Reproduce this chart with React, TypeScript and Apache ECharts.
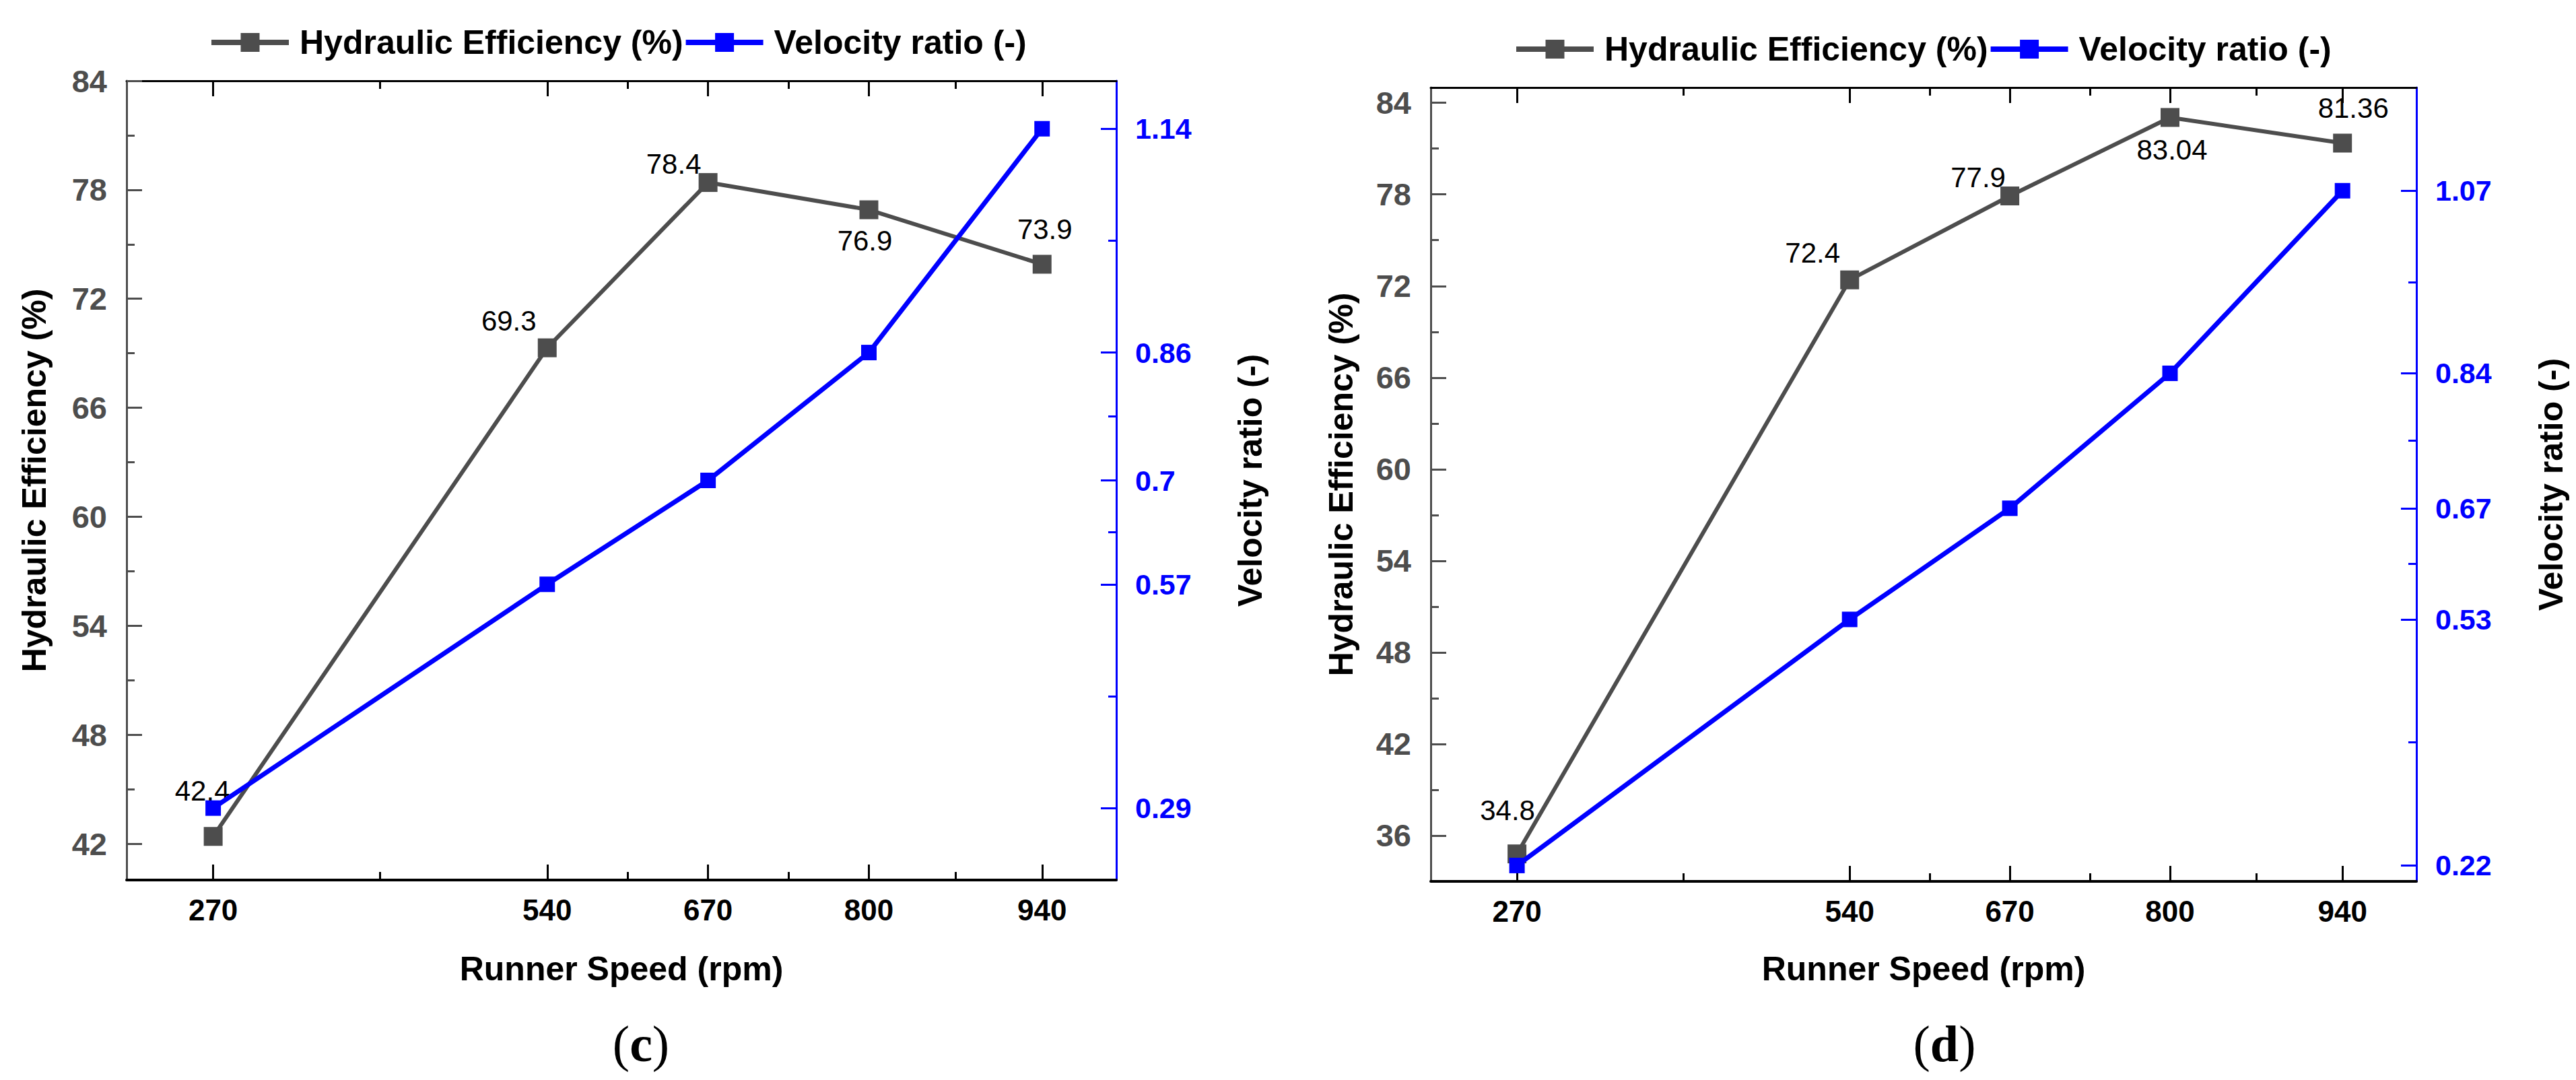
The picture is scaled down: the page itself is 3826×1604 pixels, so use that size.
import React, { useEffect, useRef } from "react";
import * as echarts from "echarts";

const FONT = '"Liberation Sans", Arial, sans-serif';
const SERIF = '"Liberation Serif", "Times New Roman", serif';

// ---- data ----
const runnerSpeed = [270, 540, 670, 800, 940];
const speedMinorTicks = [405, 605, 735, 870];

const efficiencyC = [42.4, 69.3, 78.4, 76.9, 73.9];
const velocityC = [0.29, 0.57, 0.7, 0.86, 1.14];
const effTicksC = [42, 48, 54, 60, 66, 72, 78, 84];
const effMinorC = [45, 51, 57, 63, 69, 75, 81];
const velTicksC = [0.29, 0.57, 0.7, 0.86, 1.14];
const velMinorC = [0.43, 0.635, 0.78, 1.0];

const efficiencyD = [34.8, 72.4, 77.9, 83.04, 81.36];
const velocityD = [0.22, 0.53, 0.67, 0.84, 1.07];
const effTicksD = [36, 42, 48, 54, 60, 66, 72, 78, 84];
const effMinorD = [39, 45, 51, 57, 63, 69, 75, 81];
const velTicksD = [0.22, 0.53, 0.67, 0.84, 1.07];
const velMinorD = [0.375, 0.6, 0.755, 0.955];

const xName = "Runner Speed (rpm)";
const effName = "Hydraulic Efficiency (%)";
const velName = "Velocity ratio (-)";

// label placement (pixel offsets from marker centre)
const labelOffsetC = [[-16, -68], [-57, -40], [-51, -28], [-6, 46], [4, -52]];
const labelOffsetD = [[-14, -65], [-55, -40], [-47, -27], [3, 48], [16, -52]];

const GREY = "#4d4d4d";
const BLUE = "#0000ff";

type Panel = {
  grid: { left: number; top: number; width: number; height: number };
  effMin: number; effMax: number;
  effTicks: number[]; effMinor: number[];
  velTicks: number[]; velMinor: number[];
  eff: number[]; vel: number[];
  offsets: number[][];
  legend: { left: number; top: number };
  caption: { letter: string; x: number; y: number };
  xNameGap: number; leftNameGap: number; rightNameGap: number;
};

const panels: Panel[] = [
  {
    grid: { left: 188, top: 120, width: 1470, height: 1187 },
    effMin: 40, effMax: 84,
    effTicks: effTicksC, effMinor: effMinorC,
    velTicks: velTicksC, velMinor: velMinorC,
    eff: efficiencyC, vel: velocityC,
    offsets: labelOffsetC,
    legend: { left: 305, top: 33 },
    caption: { letter: "c", x: 952, y: 1550 },
    xNameGap: 107, leftNameGap: 112, rightNameGap: 174,
  },
  {
    grid: { left: 2125, top: 130, width: 1464, height: 1179 },
    effMin: 33, effMax: 85,
    effTicks: effTicksD, effMinor: effMinorD,
    velTicks: velTicksD, velMinor: velMinorD,
    eff: efficiencyD, vel: velocityD,
    offsets: labelOffsetD,
    legend: { left: 2243, top: 43 },
    caption: { letter: "d", x: 2888, y: 1550 },
    xNameGap: 105, leftNameGap: 108, rightNameGap: 175,
  },
];

function buildOption() {
  const grid: any[] = [];
  const xAxis: any[] = [];
  const yAxis: any[] = [];
  const series: any[] = [];
  const legend: any[] = [];
  const graphic: any[] = [];

  panels.forEach((p, gi) => {
    grid.push({ ...p.grid, containLabel: false });
    const xBase = {
      type: "value", gridIndex: gi, min: 200, max: 1000,
      splitLine: { show: false },
    };
    xAxis.push({
      ...xBase, position: "bottom",
      axisLine: { show: true, lineStyle: { color: "#000", width: 4 } },
      axisTick: { show: true, inside: true, length: 23, customValues: runnerSpeed, lineStyle: { color: "#000", width: 3 } },
      axisLabel: { show: true, customValues: runnerSpeed, margin: 22, color: "#000", fontSize: 44, fontWeight: "bold", fontFamily: FONT },
      name: xName, nameLocation: "middle", nameGap: p.xNameGap,
      nameTextStyle: { color: "#000", fontSize: 50, fontWeight: "bold", fontFamily: FONT },
    });
    xAxis.push({
      ...xBase, position: "bottom",
      axisLine: { show: false },
      axisTick: { show: true, inside: true, length: 12, customValues: speedMinorTicks, lineStyle: { color: "#000", width: 3 } },
      axisLabel: { show: false },
    });
    xAxis.push({
      ...xBase, position: "top",
      axisLine: { show: true, lineStyle: { color: "#000", width: 3 } },
      axisTick: { show: true, inside: true, length: 23, customValues: runnerSpeed, lineStyle: { color: "#000", width: 3 } },
      axisLabel: { show: false },
    });
    xAxis.push({
      ...xBase, position: "top",
      axisLine: { show: false },
      axisTick: { show: true, inside: true, length: 12, customValues: speedMinorTicks, lineStyle: { color: "#000", width: 3 } },
      axisLabel: { show: false },
    });

    const yEff = { type: "value", gridIndex: gi, min: p.effMin, max: p.effMax, splitLine: { show: false } };
    const yVel = { type: "value", gridIndex: gi, min: 0.2, max: 1.2, splitLine: { show: false } };
    yAxis.push({
      ...yEff, position: "left",
      axisLine: { show: true, lineStyle: { color: GREY, width: 3 } },
      axisTick: { show: true, inside: true, length: 23, customValues: p.effTicks, lineStyle: { color: GREY, width: 3 } },
      axisLabel: { show: true, customValues: p.effTicks, margin: 29, color: GREY, fontSize: 47, fontWeight: "bold", fontFamily: FONT },
      name: effName, nameLocation: "middle", nameRotate: 90, nameGap: p.leftNameGap,
      nameTextStyle: { color: "#000", fontSize: 50, fontWeight: "bold", fontFamily: FONT },
    });
    yAxis.push({
      ...yEff, position: "left",
      axisLine: { show: false },
      axisTick: { show: true, inside: true, length: 12, customValues: p.effMinor, lineStyle: { color: GREY, width: 3 } },
      axisLabel: { show: false },
    });
    yAxis.push({
      ...yVel, position: "right",
      axisLine: { show: true, lineStyle: { color: BLUE, width: 3 } },
      axisTick: { show: true, inside: true, length: 23, customValues: p.velTicks, lineStyle: { color: BLUE, width: 3 } },
      axisLabel: { show: true, customValues: p.velTicks, margin: 28, color: BLUE, fontSize: 43, fontWeight: "bold", fontFamily: FONT },
      name: velName, nameLocation: "middle", nameRotate: 90, nameGap: p.rightNameGap,
      nameTextStyle: { color: "#000", fontSize: 50, fontWeight: "bold", fontFamily: FONT },
    });
    yAxis.push({
      ...yVel, position: "right",
      axisLine: { show: false },
      axisTick: { show: true, inside: true, length: 12, customValues: p.velMinor, lineStyle: { color: BLUE, width: 3 } },
      axisLabel: { show: false },
    });

    series.push({
      type: "line", name: effName,
      xAxisIndex: gi * 4, yAxisIndex: gi * 4,
      data: runnerSpeed.map((s, i) => ({
        value: [s, p.eff[i]],
        label: { offset: p.offsets[i] },
      })),
      symbol: "rect", symbolSize: 28,
      lineStyle: { color: GREY, width: 6 },
      itemStyle: { color: GREY },
      label: {
        show: true, position: "inside",
        formatter: (prm: any) => String(prm.value[1]),
        color: "#000", fontSize: 42, fontFamily: FONT, fontWeight: "normal",
      },
      z: 2,
    });
    series.push({
      type: "line", name: velName,
      xAxisIndex: gi * 4, yAxisIndex: gi * 4 + 2,
      data: runnerSpeed.map((s, i) => [s, p.vel[i]]),
      symbol: "rect", symbolSize: 23,
      lineStyle: { color: BLUE, width: 7 },
      itemStyle: { color: BLUE },
      z: 3,
    });

    legend.push({
      ...p.legend,
      orient: "horizontal",
      itemWidth: 115, itemHeight: 35, itemGap: 0,
      lineStyle: { width: 8 },
      textStyle: { color: "#000", fontSize: 50, fontWeight: "bold", fontFamily: FONT, padding: [0, 0, 0, 11] },
      data: [effName, velName],
      selectedMode: false,
    });

    graphic.push({
      type: "text",
      x: p.caption.x, y: p.caption.y,
      style: {
        text: "{p|(}{b|" + p.caption.letter + "}{p|)}",
        align: "center", verticalAlign: "middle",
        rich: {
          p: { fontFamily: SERIF, fontSize: 76, fill: "#000" },
          b: { fontFamily: SERIF, fontSize: 76, fontWeight: "bold", fill: "#000" },
        },
      },
    });
  });

  return {
    animation: false,
    backgroundColor: "#ffffff",
    grid, xAxis, yAxis, series, legend, graphic,
  };
}

export default function App() {
  const ref = useRef<HTMLDivElement>(null);
  useEffect(() => {
    document.body.style.margin = "0";
    if (!ref.current) return;
    const chart = echarts.init(ref.current, undefined, { renderer: "svg" });
    chart.setOption(buildOption() as any);
    return () => chart.dispose();
  }, []);
  return <div ref={ref} style={{ width: 3826, height: 1604, background: "#fff" }} />;
}
